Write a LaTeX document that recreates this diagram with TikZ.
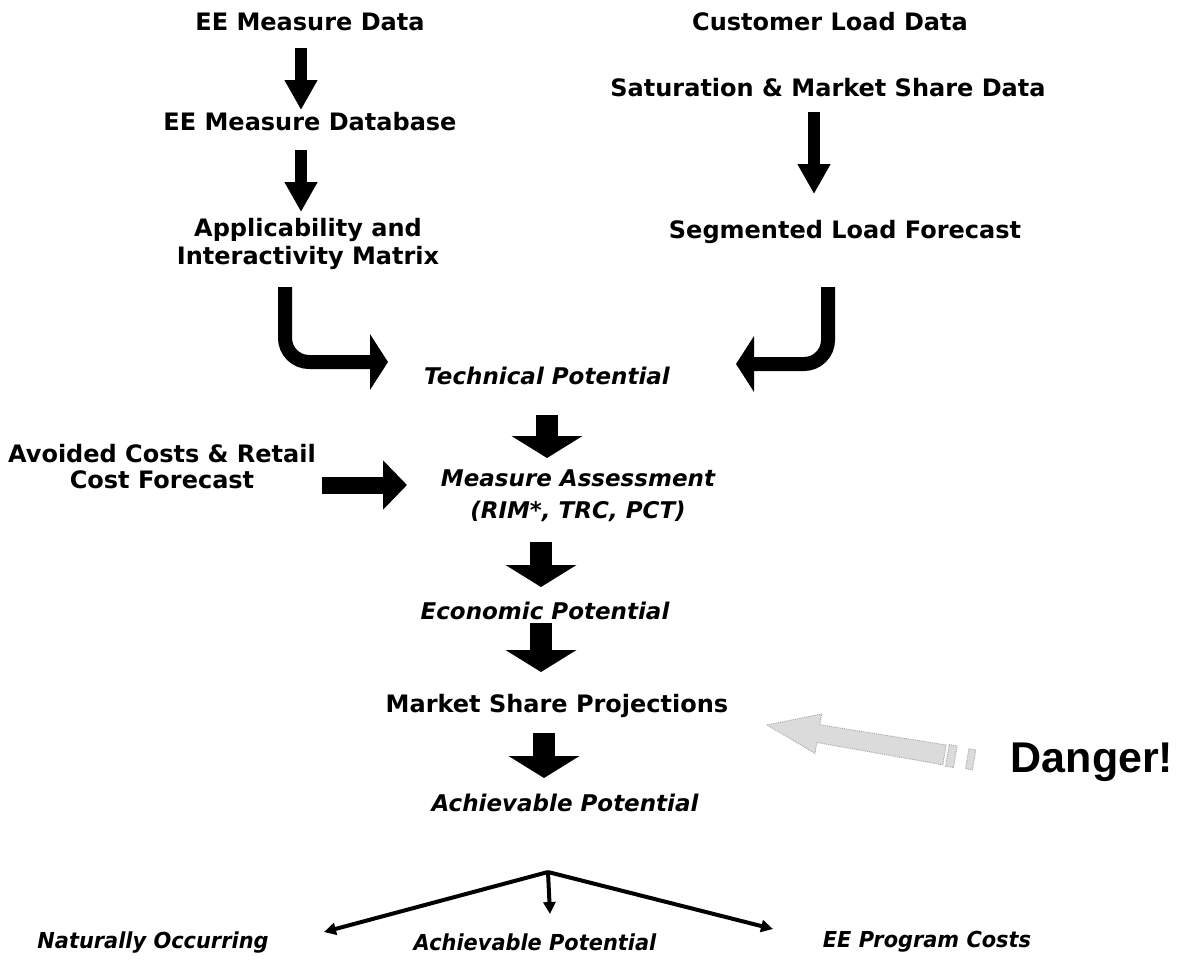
\documentclass[tikz,border=0pt]{standalone}
\usepackage{fontspec}
\setmainfont{DejaVu Sans}
\newfontfamily\condf{DejaVu Sans}[FakeStretch=0.95]
\newfontfamily\dangerf{Liberation Sans}
\usetikzlibrary{arrows.meta}
\begin{document}
\begin{tikzpicture}[x=1pt,y=-1pt,
  lbl/.style={inner sep=0pt, font=\fontsize{24}{28}\selectfont\bfseries, align=center},
  ilbl/.style={inner sep=0pt, font=\fontsize{23}{32}\selectfont\bfseries\itshape, align=center},
  blbl/.style={inner sep=0pt, font=\fontsize{22}{26}\selectfont\condf\bfseries\itshape},
  danger/.style={inner sep=0pt, font=\fontsize{43}{48}\selectfont\dangerf\bfseries},
  thinarr/.style={line width=12pt, -{Triangle[width=31pt,length=30pt]}},
  blockarr/.style={line width=22pt, -{Triangle[width=70pt,length=22pt]}},
  sidearr/.style={line width=17pt, -{Triangle[width=48pt,length=24pt]}},
  curvearr/.style={line width=14pt, rounded corners=24pt, -{Triangle[width=55pt,length=18pt]}},
  splitarr/.style={line width=4pt, -{Triangle[width=12pt,length=12pt]}},
  grayarr/.style={fill=gray!28, draw=gray!70, line width=0.9pt, densely dotted}
]
\fill[white] (0,0) rectangle (1182,967);
\useasboundingbox (0,0) rectangle (1182,967);

% left column
\node[lbl] (eedata) at (310,22) {EE Measure Data};
\node[lbl] (eedb) at (310,122) {EE Measure Database};
\node[lbl] (appl) at (308,244) {Applicability and\\Interactivity Matrix};
% right column
\node[lbl] (cust) at (830,22) {Customer Load Data};
\node[lbl] (sat) at (828,88) {Saturation \& Market Share Data};
\node[lbl] (seg) at (845,232) {Segmented Load Forecast};
% centre column
\node[ilbl] (tech) at (547,376) {Technical Potential};
\node[lbl, font=\fontsize{24}{26}\selectfont\bfseries] (avoid) at (162,467) {Avoided Costs \& Retail\\Cost Forecast};
\node[ilbl] (meas) at (578,496) {Measure Assessment\\(RIM*, TRC, PCT)};
\node[ilbl] (econ) at (545,611) {Economic Potential};
\node[lbl] (mkt) at (557,706) {Market Share Projections};
\node[ilbl] (ach) at (565,803) {Achievable Potential};
\node[danger] (dgr) at (1092,762) {Danger!};
% bottom
\coordinate (apex) at (548,872);
\node[blbl] (nat) at (153,942) {Naturally Occurring};
\node[blbl] (ach2) at (535,942) {Achievable Potential};
\node[blbl] (eecost) at (927,942) {EE Program Costs};

% left column arrows
\draw[thinarr] ([shift={(-9,26)}]eedata.center) -- ([shift={(-9,-12)}]eedb.center);
\draw[thinarr] ([shift={(-9,28)}]eedb.center) -- ([shift={(-7,-32)}]appl.center);
% right column arrow
\draw[thinarr] ([shift={(-14,24)}]sat.center) -- ([shift={(-31,-38)}]seg.center);

% curved arrows into Technical Potential
\draw[curvearr] ([shift={(-23,43)}]appl.center) |- ([shift={(-159,-14)}]tech.center);
\draw[curvearr] ([shift={(-17,55)}]seg.center) |- ([shift={(189,-12)}]tech.center);

% centre block arrows
\draw[blockarr] ([shift={(0,39)}]tech.center) -- ([shift={(-31,-38)}]meas.center);
\draw[sidearr] ([shift={(160,18)}]avoid.center) -- ([shift={(-171,-11)}]meas.center);
\draw[blockarr] ([shift={(-37,46)}]meas.center) -- ([shift={(-4,-24)}]econ.center);
\draw[blockarr] ([shift={(-4,12)}]econ.center) -- ([shift={(-16,-34)}]mkt.center);
\draw[blockarr] ([shift={(-13,27)}]mkt.center) -- ([shift={(-21,-25)}]ach.center);

% split arrows
\draw[splitarr] (apex) -- ([shift={(171,-10)}]nat.center);
\draw[splitarr] (apex) -- ([shift={(15,-28)}]ach2.center);
\draw[splitarr] (apex) -- ([shift={(-154,-13)}]eecost.center);

% danger arrow
\draw[grayarr] (767,725) -- (821.6,713.9) -- (819.8,724.7) -- (946.2,745.0) -- (942.8,764.8) -- (816.8,742.5) -- (815.0,753.3) -- cycle;
\draw[grayarr] (949.2,744.6) -- (957.1,745.9) -- (953.5,767.6) -- (945.6,766.3) -- cycle;
\draw[grayarr] (968.9,748.8) -- (975.8,750.0) -- (972.4,769.8) -- (965.5,768.6) -- cycle;
\end{tikzpicture}
\end{document}
